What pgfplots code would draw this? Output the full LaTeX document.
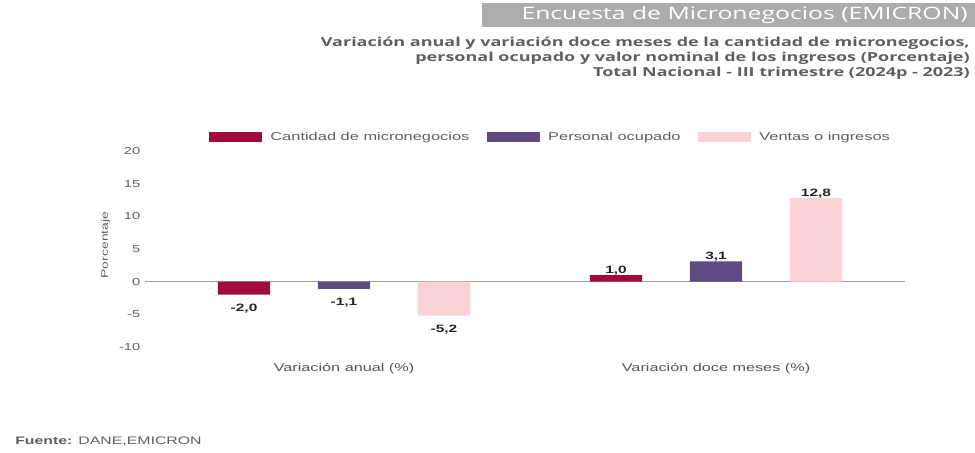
\documentclass[border=0pt]{standalone}
\usepackage{fontspec}
\setmainfont{Liberation Sans}[FakeStretch=1.45]
\newfontfamily\titlefont{Open Sans}[FakeStretch=1.45]
\usepackage{pgfplots}
\pgfplotsset{compat=1.18}

\definecolor{cRed}{RGB}{160,10,60}
\definecolor{cPurple}{RGB}{95,75,130}
\definecolor{cPink}{RGB}{251,210,214}
\definecolor{txtGray}{RGB}{95,95,95}
\definecolor{banner}{RGB}{172,172,172}

\begin{document}
\begin{tikzpicture}
\path[use as bounding box] (0,0) rectangle (731.25pt,339.75pt);

% banner and titles (1px = 0.75pt)
\fill[banner] (361.5pt,319.5pt) rectangle (731.25pt,337.5pt);
\node[anchor=east, text=white, font=\titlefont\fontsize{12.8}{14}\selectfont, inner sep=0pt]
  at (726pt,328.5pt) {Encuesta de Micronegocios (EMICRON)};
\node[anchor=north east, align=right, text=txtGray, inner sep=0pt,
  font=\titlefont\bfseries\fontsize{9.3}{11.25}\selectfont]
  at (727.5pt,312pt) {Variación anual y variación doce meses de la cantidad de micronegocios,\\
  personal ocupado y valor nominal de los ingresos (Porcentaje)\\
  Total Nacional - III trimestre (2024p - 2023)};
\node[anchor=west, text=txtGray, inner sep=0pt, font=\fontsize{8.2}{9}\selectfont]
  at (11.25pt,9pt) {\textbf{Fuente:} DANE,EMICRON};

\begin{axis}[
  at={(108.75pt,79.5pt)}, anchor=south west,
  width=570pt, height=147pt, scale only axis,
  ymin=-10, ymax=20, ytick={-10,-5,0,5,10,15,20},
  xmin=-0.535, xmax=1.508,
  xtick={0,1},
  xticklabels={Variación anual (\%), Variación doce meses (\%)},
  axis line style={draw=none},
  major tick length=0pt,
  tick label style={text=txtGray, font=\fontsize{7.6}{9}\selectfont},
  xticklabel style={yshift=-8.5pt, text=txtGray!90!black, font=\fontsize{8.4}{9}\selectfont},
  /pgf/number format/assume math mode=true,
  ylabel={Porcentaje},
  ylabel style={at={(axis description cs:-0.052,0.52)}, anchor=center,
    text=txtGray, font=\fontsize{7.2}{9}\selectfont},
  ybar, bar width=0.14,
  nodes near coords,
  nodes near coords style={font=\bfseries\fontsize{8}{9}\selectfont, text=black!85,
    yshift=-3.4pt,
    /pgf/number format/.cd, fixed, fixed zerofill, precision=1, use comma,
    assume math mode=true},
  legend columns=3,
  legend style={at={(0.534,1.071)}, anchor=center, draw=none, fill=none,
    font=\fontsize{8.5}{9}\selectfont, text=txtGray,
    /tikz/every even column/.append style={column sep=11pt}},
  legend image code/.code={\fill[#1] (0pt,-3.75pt) rectangle (40pt,3.75pt);
    \path (44pt,0pt);},
]
\draw[gray!75, line width=1pt] (axis cs:-0.535,0) -- (axis cs:1.508,0);

\addplot[fill=cRed, draw=none, bar shift=-0.2688] coordinates {(0,-2.0) (1,1.0)};
\addlegendentry{Cantidad de micronegocios}
\addplot[fill=cPurple, draw=none, bar shift=0] coordinates {(0,-1.1) (1,3.1)};
\addlegendentry{Personal ocupado}
\addplot[fill=cPink, draw=none, bar shift=0.2688] coordinates {(0,-5.2) (1,12.8)};
\addlegendentry{Ventas o ingresos}
\end{axis}
\end{tikzpicture}
\end{document}
